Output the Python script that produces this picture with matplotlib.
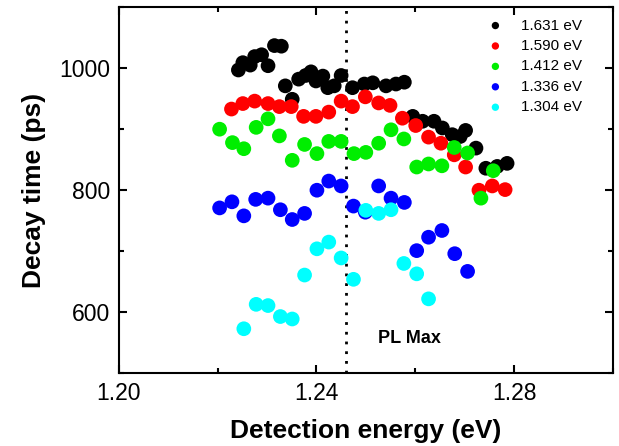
import matplotlib
matplotlib.use("Agg")
import matplotlib.pyplot as plt
from matplotlib.ticker import MultipleLocator

plt.rcParams['font.family'] = ['Liberation Sans', 'DejaVu Sans']

# (eV, ps)
e_1631 = [1.2242, 1.2251, 1.2266, 1.2275, 1.2289, 1.2302, 1.2315, 1.2329, 1.2337, 1.2351,
          1.2364, 1.2378, 1.2389, 1.2399, 1.2413, 1.2423, 1.2436, 1.2450, 1.2473, 1.2497,
          1.2514, 1.2541, 1.2561, 1.2578, 1.2595, 1.2615, 1.2638, 1.2655, 1.2675, 1.2691,
          1.2702, 1.2723, 1.2743, 1.2766, 1.2786]
t_1631 = [997, 1009, 1005, 1019, 1022, 1004, 1037, 1036, 971, 949,
          982, 988, 994, 979, 987, 968, 971, 988, 968, 974,
          976, 971, 974, 977, 921, 913, 913, 902, 891, 888,
          898, 869, 836, 839, 844]

e_1590 = [1.2228, 1.2251, 1.2275, 1.2302, 1.2325, 1.2349, 1.2374, 1.2399, 1.2425, 1.2450,
          1.2473, 1.2499, 1.2526, 1.2549, 1.2574, 1.2601, 1.2627, 1.2652, 1.2679, 1.2702,
          1.2729, 1.2756, 1.2782]
t_1590 = [933, 942, 946, 942, 937, 937, 921, 921, 928, 946,
          937, 953, 943, 939, 918, 906, 887, 877, 858, 838,
          800, 807, 801]

e_1412 = [1.2204, 1.2230, 1.2253, 1.2278, 1.2302, 1.2325, 1.2351, 1.2376, 1.2401, 1.2425,
          1.2450, 1.2476, 1.2500, 1.2526, 1.2551, 1.2577, 1.2603, 1.2627, 1.2654, 1.2679,
          1.2706, 1.2733, 1.2758]
t_1412 = [900, 878, 868, 903, 917, 889, 849, 875, 860, 880,
          880, 860, 862, 877, 899, 884, 838, 843, 840, 870,
          861, 787, 832]

e_1336 = [1.2204, 1.2229, 1.2253, 1.2277, 1.2302, 1.2327, 1.2351, 1.2376, 1.2401, 1.2425,
          1.2450, 1.2475, 1.2499, 1.2526, 1.2551, 1.2578, 1.2603, 1.2627, 1.2654, 1.2680,
          1.2706]
t_1336 = [771, 781, 758, 785, 787, 768, 752, 762, 800, 815,
          807, 774, 764, 807, 787, 780, 701, 723, 734, 696,
          667]

e_1304 = [1.2253, 1.2278, 1.2302, 1.2327, 1.2351, 1.2376, 1.2401, 1.2425, 1.2450, 1.2475,
          1.2500, 1.2526, 1.2551, 1.2577, 1.2603, 1.2627]
t_1304 = [573, 613, 611, 593, 589, 661, 704, 715, 689, 654,
          767, 762, 768, 680, 663, 622]

labels = ['1.631 eV', '1.590 eV', '1.412 eV', '1.336 eV', '1.304 eV']
colors = ['black', 'red', '#00ee00', 'blue', 'cyan']
pl_max = 1.2460

fig = plt.figure(figsize=(6.19, 4.46), dpi=100)
ax = fig.add_axes([0.192, 0.163, 0.798, 0.821])

series = [(e_1631, t_1631), (e_1590, t_1590), (e_1412, t_1412), (e_1336, t_1336), (e_1304, t_1304)]
for (e, t), lab, c in zip(series, labels, colors):
    ax.scatter(e, t, s=112, color=c, label=lab, edgecolors='none', zorder=3)

ax.axvline(pl_max, color='black', lw=2, linestyle=(0, (1, 2.5)), zorder=2)
ax.text(1.2588, 557, 'PL Max', fontsize=13, fontweight='bold', ha='center', va='center')

ax.set_xlim(1.20, 1.30)
ax.set_ylim(500, 1100)
ax.xaxis.set_minor_locator(MultipleLocator(0.02))
ax.yaxis.set_minor_locator(MultipleLocator(100))
ax.set_xticks([1.20, 1.24, 1.28])
ax.set_xticklabels(['1.20', '1.24', '1.28'])
ax.set_yticks([600, 800, 1000])
ax.tick_params(which='both', direction='in', top=True, right=True, width=1.5, labelsize=16.5)
ax.tick_params(which='major', length=6, pad=6)
ax.tick_params(which='minor', length=3.5)
for sp in ax.spines.values():
    sp.set_linewidth(1.5)

ax.set_xlabel('Detection energy (eV)', fontsize=19, fontweight='bold', labelpad=10)
ax.set_ylabel('Decay time (ps)', fontsize=19, fontweight='bold', labelpad=10)

ax.legend(loc='upper right', bbox_to_anchor=(0.96, 0.998), frameon=False, fontsize=11,
          markerscale=0.5, labelspacing=0.42, handletextpad=0.7, borderaxespad=0.3)

plt.savefig('out.png', dpi=100)
